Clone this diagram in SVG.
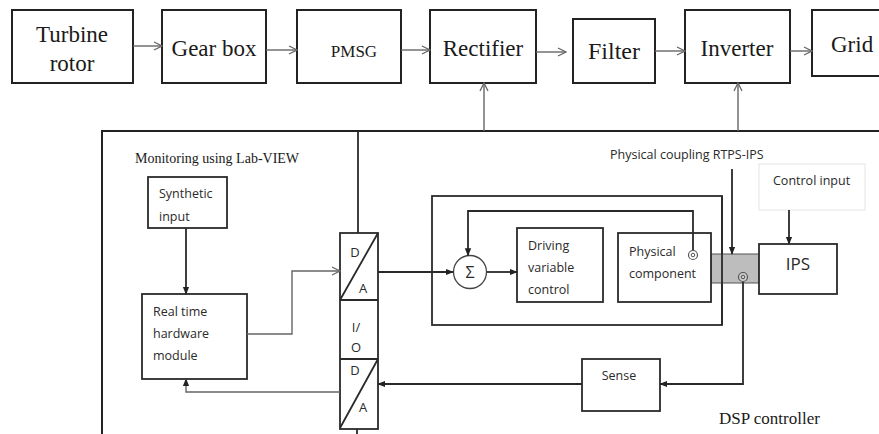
<svg xmlns="http://www.w3.org/2000/svg" width="879" height="434" viewBox="0 0 879 434">
<defs>
<style>
.box{fill:#fff;stroke:#222;stroke-width:2}
.sbox{fill:#fff;stroke:#2a2a2a;stroke-width:1.8}
.ser{font-family:"Liberation Serif","Times New Roman",serif;fill:#1a1a1a}
.san{font-family:"Open Sans","Liberation Sans",sans-serif;fill:#2a2a2a}
.thin{fill:none;stroke:#666;stroke-width:1.4}
.ln{fill:none;stroke:#2a2a2a;stroke-width:1.8}
</style>
<marker id="open" viewBox="0 0 10 10" refX="9" refY="5" markerWidth="10" markerHeight="10" markerUnits="userSpaceOnUse" orient="auto">
<path d="M1,1 L9,5 L1,9" fill="none" stroke="#666" stroke-width="1.3"/>
</marker>
<marker id="fill" viewBox="0 0 10 10" refX="9" refY="5" markerWidth="8" markerHeight="8" markerUnits="userSpaceOnUse" orient="auto">
<path d="M0,1 L10,5 L0,9 Z" fill="#222"/>
</marker>
</defs>
<rect width="879" height="434" fill="#fff"/>

<g id="turbine"><rect class="box" x="12" y="10" width="121" height="73"/><text class="ser" font-size="23" text-anchor="middle" x="72" y="42">Turbine</text><text class="ser" font-size="23" text-anchor="middle" x="72" y="71">rotor</text></g>
<g id="gearbox"><rect class="box" x="162" y="10" width="104" height="73"/><text class="ser" font-size="23" text-anchor="middle" x="214" y="56">Gear box</text></g>
<g id="pmsg"><rect class="box" x="297" y="10" width="104" height="73"/><text class="ser" font-size="17" text-anchor="middle" x="354" y="57">PMSG</text></g>
<g id="rectifier"><rect class="box" x="430" y="10" width="106" height="73"/><text class="ser" font-size="23" text-anchor="middle" x="483" y="56">Rectifier</text></g>
<g id="filter"><rect class="box" x="573" y="19" width="82" height="64"/><text class="ser" font-size="24" text-anchor="middle" x="614" y="59">Filter</text></g>
<g id="inverter"><rect class="box" x="685" y="10" width="105" height="73"/><text class="ser" font-size="23" text-anchor="middle" x="737" y="56">Inverter</text></g>
<g id="grid"><rect class="box" x="812" y="10" width="80" height="66"/><text class="ser" font-size="23" x="831" y="52">Grid</text></g>

<g id="outer"><path d="M102,434 V131 H879" fill="none" stroke="#222" stroke-width="2"/>
<text class="ser" font-size="14" x="135" y="163">Monitoring using Lab-VIEW</text>
<text class="ser" font-size="17" x="719" y="424">DSP controller</text></g>

<g id="synthetic"><rect class="sbox" x="148" y="177" width="79" height="51"/><text class="san" font-size="12.5" x="159" y="198">Synthetic</text><text class="san" font-size="12.5" x="159" y="221">input</text></g>
<g id="realtime"><rect class="sbox" x="142" y="294" width="105" height="85"/><text class="san" font-size="12.5" x="153" y="316">Real time</text><text class="san" font-size="12.5" x="153" y="338">hardware</text><text class="san" font-size="12.5" x="153" y="360">module</text></g>

<g id="io">
<rect class="sbox" x="340" y="233" width="38" height="196"/>
<path class="ln" d="M340,300 H378 M340,359 H378 M378,233 L340,300 M378,359 L340,428"/>
<text class="san" font-size="13" text-anchor="middle" x="355" y="257">D</text>
<text class="san" font-size="13" text-anchor="middle" x="363" y="293">A</text>
<text class="san" font-size="13" text-anchor="middle" x="356" y="332">I/</text>
<text class="san" font-size="13" text-anchor="middle" x="356" y="352">O</text>
<text class="san" font-size="13" text-anchor="middle" x="355" y="375">D</text>
<text class="san" font-size="13" text-anchor="middle" x="363" y="412">A</text>
</g>

<g id="dspbox"><rect x="432" y="196" width="290" height="129" fill="none" stroke="#2a2a2a" stroke-width="1.8"/></g>
<g id="sigma"><circle cx="470" cy="272" r="16.5" fill="#fff" stroke="#444" stroke-width="1.3"/><text class="san" font-size="16" text-anchor="middle" x="470" y="278">Σ</text></g>
<g id="driving"><rect class="sbox" x="517" y="228" width="86" height="74"/><text class="san" font-size="12.5" x="528" y="250">Driving</text><text class="san" font-size="12.5" x="528" y="272">variable</text><text class="san" font-size="12.5" x="528" y="294">control</text></g>
<g id="coupling"><rect x="711" y="254" width="48" height="29" fill="#bdbdbd" stroke="#555" stroke-width="1"/>
<text class="san" font-size="12.5" x="610" y="159">Physical coupling RTPS-IPS</text></g>
<g id="physical"><rect class="sbox" x="618" y="233" width="93" height="69"/><text class="san" font-size="12.5" x="629" y="256">Physical</text><text class="san" font-size="12.5" x="629" y="278">component</text>
<circle cx="693" cy="255" r="4.5" fill="#fff" stroke="#555" stroke-width="1.2"/><circle cx="693" cy="255" r="1.8" fill="none" stroke="#555" stroke-width="1"/></g>
<g id="ctrlinput"><rect x="759" y="164" width="106" height="46" fill="#fff" stroke="#e4e4e4" stroke-width="1"/><text class="san" font-size="12.5" x="773" y="185">Control input</text></g>
<g id="ips"><rect class="sbox" x="759" y="244" width="78" height="50"/><text class="san" font-size="17" text-anchor="middle" x="798" y="270">IPS</text></g>
<g id="sense"><rect class="sbox" x="582" y="359" width="78" height="52"/><text class="san" font-size="12.5" text-anchor="middle" x="619" y="380">Sense</text></g>

<g id="connectors">
<path class="thin" marker-end="url(#open)" d="M133,46 H162"/>
<path class="thin" marker-end="url(#open)" d="M266,50 H297"/>
<path class="thin" marker-end="url(#open)" d="M401,50 H430"/>
<path class="thin" marker-end="url(#open)" d="M536,52 H566"/>
<path class="thin" marker-end="url(#open)" d="M655,51 H685"/>
<path class="thin" marker-end="url(#open)" d="M790,51 H812"/>
<path class="thin" marker-end="url(#open)" d="M484,131 V83"/>
<path class="thin" marker-end="url(#open)" d="M738,131 V83"/>
<path class="ln" d="M358,131 V233"/>
<path class="ln" d="M357,429 V434"/>
<path class="ln" marker-end="url(#fill)" d="M186,228 V294"/>
<path class="thin" marker-end="url(#open)" d="M247,334 H292 V271 H340"/>
<path class="thin" marker-end="url(#fill)" d="M340,392 H186 V379"/>
<path class="ln" marker-end="url(#fill)" d="M378,272 H453"/>
<path class="ln" marker-end="url(#fill)" d="M693,250 V211 H468 V255.5"/>
<path class="ln" marker-end="url(#fill)" d="M487,272 H517"/>
<path class="ln" marker-end="url(#fill)" d="M732,169 V254"/>
<path class="ln" marker-end="url(#fill)" d="M789,210 V244"/>
<path class="ln" d="M722,196 V325"/>
<circle cx="743" cy="277" r="4.5" fill="#ccc" stroke="#555" stroke-width="1.2"/><circle cx="743" cy="277" r="1.8" fill="none" stroke="#555" stroke-width="1"/>
<path class="ln" marker-end="url(#fill)" d="M743,282 V384 H660"/>
<path class="ln" marker-end="url(#fill)" d="M582,384 H378"/>
</g>
</svg>
